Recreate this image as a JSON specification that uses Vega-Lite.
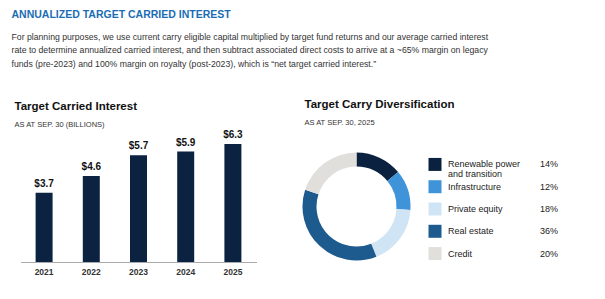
{
  "$schema": "https://vega.github.io/schema/vega-lite/v6.json",
  "background": "white",
  "padding": {"left": 11.5, "top": 9, "right": 5, "bottom": 5},
  "config": {"font": "Liberation Sans", "view": {"stroke": null}},
  "title": {
    "text": "ANNUALIZED TARGET CARRIED INTEREST",
    "subtitle": [
      "For planning purposes, we use current carry eligible capital multiplied by target fund returns and our average carried interest",
      "rate to determine annualized carried interest, and then subtract associated direct costs to arrive at a ~65% margin on legacy",
      "funds (pre-2023) and 100% margin on royalty (post-2023), which is “net target carried interest.”"
    ],
    "anchor": "start",
    "frame": "bounds",
    "dx": -3,
    "fontSize": 10.5,
    "fontWeight": "bold",
    "color": "#1a6db5",
    "subtitleFontSize": 8.7,
    "subtitleColor": "#333333",
    "subtitleLineHeight": 13.5,
    "subtitlePadding": 12.5,
    "offset": 30.5
  },
  "datasets": {
    "years": [
      {"year": "2021", "value": 3.7},
      {"year": "2022", "value": 4.6},
      {"year": "2023", "value": 5.7},
      {"year": "2024", "value": 5.9},
      {"year": "2025", "value": 6.3}
    ],
    "carry": [
      {"category": "Renewable power and transition", "label": "Renewable power\nand transition", "share": 0.14, "idx": 1},
      {"category": "Infrastructure", "label": "Infrastructure", "share": 0.12, "idx": 2},
      {"category": "Private equity", "label": "Private equity", "share": 0.18, "idx": 3},
      {"category": "Real estate", "label": "Real estate", "share": 0.36, "idx": 4},
      {"category": "Credit", "label": "Credit", "share": 0.20, "idx": 5}
    ]
  },
  "bounds": "flush",
  "spacing": 45,
  "hconcat": [
    {
      "title": {
        "text": "Target Carried Interest",
        "subtitle": "AS AT SEP. 30 (BILLIONS)",
        "anchor": "start",
        "dx": -6,
        "fontSize": 11.5,
        "fontWeight": "bold",
        "color": "#111111",
        "subtitleFontSize": 7.5,
        "subtitleColor": "#333333",
        "subtitlePadding": 8,
        "offset": 2
      },
      "width": 236,
      "height": 131,
      "data": {"name": "years"},
      "encoding": {
        "x": {
          "field": "year",
          "type": "ordinal",
          "scale": {"paddingInner": 0.64, "paddingOuter": 0.32},
          "axis": {
            "title": null,
            "labelAngle": 0,
            "ticks": false,
            "grid": false,
            "domainColor": "#aaaaaa",
            "labelFontWeight": "bold",
            "labelFontSize": 8.5,
            "labelColor": "#333333",
            "labelPadding": 5
          }
        },
        "y": {
          "field": "value",
          "type": "quantitative",
          "scale": {"domain": [0, 7]},
          "axis": null
        }
      },
      "layer": [
        {"mark": {"type": "bar", "color": "#0b2341"}},
        {
          "mark": {"type": "text", "baseline": "bottom", "dy": -4, "fontSize": 10, "fontWeight": "bold", "color": "#111111"},
          "encoding": {"text": {"field": "value", "type": "quantitative", "format": "$.1f"}}
        }
      ]
    },
    {
      "title": {
        "text": "Target Carry Diversification",
        "subtitle": "AS AT SEP. 30, 2025",
        "anchor": "start",
        "dx": 3,
        "fontSize": 11.5,
        "fontWeight": "bold",
        "color": "#111111",
        "subtitleFontSize": 7.5,
        "subtitleColor": "#333333",
        "subtitlePadding": 8,
        "offset": 5
      },
      "bounds": "flush",
      "spacing": 23.5,
      "hconcat": [
        {
          "width": 110,
          "height": 151,
          "data": {"name": "carry"},
          "mark": {"type": "arc", "innerRadius": 40, "outerRadius": 54},
          "encoding": {
            "theta": {"field": "share", "type": "quantitative", "stack": true},
            "order": {"field": "idx", "type": "quantitative"},
            "color": {
              "field": "category",
              "type": "nominal",
              "scale": {
                "domain": ["Renewable power and transition", "Infrastructure", "Private equity", "Real estate", "Credit"],
                "range": ["#0a2240", "#3f93d8", "#cfe4f5", "#1d5a8e", "#e0dfdb"]
              },
              "legend": null
            }
          }
        },
        {
          "width": 105,
          "height": 156,
          "data": {"name": "carry"},
          "encoding": {
            "y": {
              "field": "category",
              "type": "nominal",
              "sort": ["Renewable power and transition", "Infrastructure", "Private equity", "Real estate", "Credit"],
              "scale": {"type": "band", "paddingInner": 0, "paddingOuter": 1.045},
              "axis": null
            }
          },
          "layer": [
            {
              "mark": {"type": "point", "shape": "square", "size": 169, "filled": true, "opacity": 1},
              "encoding": {
                "x": {"datum": "swatch", "type": "nominal", "scale": {"type": "point", "domain": ["swatch", "share"], "padding": 0}, "axis": null},
                "color": {
                  "field": "category",
                  "type": "nominal",
                  "scale": {
                    "domain": ["Renewable power and transition", "Infrastructure", "Private equity", "Real estate", "Credit"],
                    "range": ["#0a2240", "#3f93d8", "#cfe4f5", "#1d5a8e", "#e0dfdb"]
                  },
                  "legend": null
                }
              }
            },
            {
              "mark": {"type": "text", "align": "left", "baseline": "middle", "dx": 13, "fontSize": 9, "lineHeight": 9.5, "lineBreak": "\n", "color": "#222222"},
              "encoding": {
                "x": {"datum": "swatch", "type": "nominal"},
                "text": {"field": "label"}
              }
            },
            {
              "mark": {"type": "text", "align": "left", "baseline": "middle", "fontSize": 9, "color": "#222222"},
              "encoding": {
                "x": {"datum": "share", "type": "nominal"},
                "text": {"field": "share", "type": "quantitative", "format": ".0%"}
              }
            }
          ]
        }
      ]
    }
  ]
}
